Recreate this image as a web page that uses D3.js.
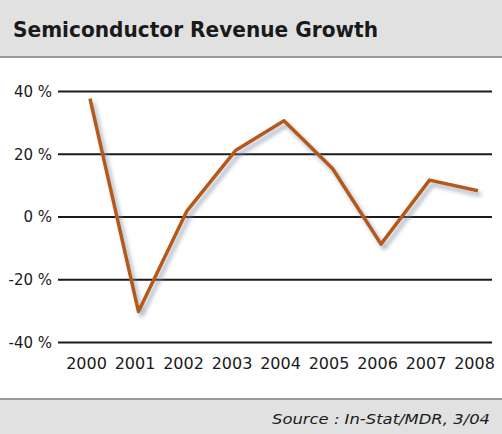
<!DOCTYPE html>
<html>
<head>
<meta charset="utf-8">
<script src="https://cdn.jsdelivr.net/npm/d3@7"></script>
<style>
  body { margin: 0; background: #fff; }
  svg { display: block; }
</style>
</head>
<body>
<script>
(function() {
    var w = 502;
    var h = 434;

    var years = ["2000", "2001", "2002", "2003", "2004", "2005", "2006", "2007", "2008"];
    var growth = [37.6, -30.3, 1.8, 21, 30.5, 15.3, -8.8, 11.6, 8.2];
    var yTicks = [40, 20, 0, -20, -40];

    var svg = d3.select("body").append("svg")
        .attr("width", w)
        .attr("height", h);

    var defs = svg.append("defs");
    var f = defs.append("filter")
        .attr("id", "shadow")
        .attr("x", "-10%").attr("y", "-10%")
        .attr("width", "130%").attr("height", "130%");
    f.append("feDropShadow")
        .attr("dx", 3).attr("dy", 4)
        .attr("stdDeviation", 2)
        .attr("flood-color", "#7f90a8")
        .attr("flood-opacity", 0.7);

    // header band
    svg.append("rect").attr("x", 0).attr("y", 0).attr("width", w).attr("height", 56).attr("fill", "#e1e1e1");
    svg.append("rect").attr("x", 0).attr("y", 56).attr("width", w).attr("height", 2).attr("fill", "#999999");
    svg.append("text")
        .text("Semiconductor Revenue Growth")
        .attr("x", 13).attr("y", 37)
        .attr("font-family", "'DejaVu Sans', Verdana, sans-serif")
        .attr("font-weight", "bold")
        .attr("font-size", 21)
        .attr("textLength", 365)
        .attr("lengthAdjust", "spacingAndGlyphs")
        .attr("fill", "#1a1a1a");

    // footer band
    svg.append("rect").attr("x", 0).attr("y", 398).attr("width", w).attr("height", 2).attr("fill", "#999999");
    svg.append("rect").attr("x", 0).attr("y", 400).attr("width", w).attr("height", 34).attr("fill", "#e1e1e1");
    svg.append("text")
        .text("Source : In-Stat/MDR, 3/04")
        .attr("x", 490).attr("y", 424)
        .attr("text-anchor", "end")
        .attr("font-family", "'DejaVu Sans', Verdana, sans-serif")
        .attr("font-style", "italic")
        .attr("font-size", 14)
        .attr("textLength", 218)
        .attr("lengthAdjust", "spacingAndGlyphs")
        .attr("fill", "#1a1a1a");

    var x = d3.scalePoint()
        .domain(years)
        .range([90, 478]);

    var y = d3.scaleLinear()
        .domain([-40, 40])
        .range([342, 91]);

    // gridlines + labels
    var yAxis = d3.axisLeft(y)
        .tickValues(yTicks)
        .tickSize(-(492 - 58))
        .tickPadding(6)
        .tickFormat(function(d) { return d + " %"; });

    var gy = svg.append("g")
        .attr("transform", "translate(58,0)")
        .call(yAxis);
    gy.select(".domain").remove();
    gy.selectAll(".tick line")
        .attr("stroke", "#1a1a1a")
        .attr("stroke-width", 2);
    gy.selectAll(".tick text")
        .attr("font-family", "'DejaVu Sans', Verdana, sans-serif")
        .attr("font-size", 15)
        .attr("fill", "#1a1a1a")
        .attr("dy", "0.36em");

    var xAxis = d3.axisBottom(x)
        .tickSize(0)
        .tickPadding(0);

    var gx = svg.append("g")
        .attr("transform", "translate(-4,369)")
        .call(xAxis);
    gx.select(".domain").remove();
    gx.selectAll(".tick text")
        .attr("font-family", "'DejaVu Sans', Verdana, sans-serif")
        .attr("font-size", 16)
        .attr("fill", "#1a1a1a")
        .attr("dy", 0)
        .attr("y", 0);

    var line = d3.line()
        .x(function(d, i) { return x(years[i]); })
        .y(function(d) { return y(d); });

    svg.append("path")
        .datum(growth)
        .attr("d", line)
        .attr("fill", "none")
        .attr("stroke", "#b65916")
        .attr("stroke-width", 3.5)
        .attr("stroke-linejoin", "round")
        .attr("filter", "url(#shadow)");
})();
</script>
</body>
</html>
